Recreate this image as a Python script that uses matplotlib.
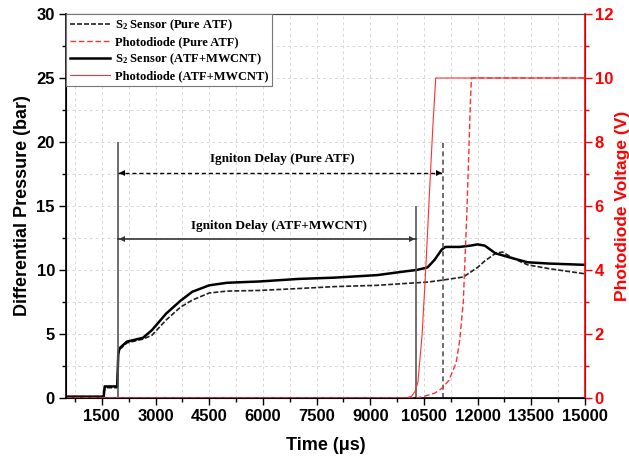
import numpy as np
import matplotlib
matplotlib.use('Agg')
import matplotlib.pyplot as plt
from matplotlib.ticker import MultipleLocator
from matplotlib.font_manager import FontProperties

plt.rcParams['mathtext.default'] = 'regular'

# S2 pressure sensor, ATF+MWCNT (bar)
t_mwcnt = [500, 1550, 1580, 1930, 1960, 2000, 2200, 2650, 2900, 3300, 3700, 4030, 4500,
           5000, 5900, 7000, 8000, 9200, 10000, 10300, 10600, 10800, 11000, 11100, 11500,
           11800, 12000, 12200, 12500, 13000, 13400, 14000, 15000]
p_mwcnt = [0.1, 0.1, 0.9, 0.9, 3.5, 3.9, 4.4, 4.7, 5.3, 6.6, 7.6, 8.3, 8.8,
           9.0, 9.1, 9.3, 9.4, 9.6, 9.9, 10.0, 10.2, 10.8, 11.6, 11.8, 11.8,
           11.9, 12.0, 11.9, 11.3, 10.9, 10.6, 10.5, 10.4]

# S2 pressure sensor, pure ATF (bar)
t_pure = [500, 1550, 1580, 1930, 1960, 2000, 2200, 2650, 2900, 3300, 3700, 4030, 4500,
          5000, 5900, 7000, 8000, 9200, 10000, 10600, 11000, 11600, 12000, 12200, 12500,
          12700, 13000, 13400, 14000, 15000]
p_pure = [0.1, 0.1, 0.8, 0.8, 3.4, 3.8, 4.3, 4.6, 4.9, 6.1, 7.1, 7.65, 8.2,
          8.35, 8.4, 8.55, 8.7, 8.8, 8.95, 9.05, 9.2, 9.45, 10.2, 10.7, 11.3,
          11.4, 10.9, 10.4, 10.1, 9.7]

# photodiode voltages (V)
t_pd_mwcnt = [500, 10000, 10150, 10250, 10333, 10450, 10550, 10650, 10750, 10830, 15000]
v_pd_mwcnt = [0, 0, 0.05, 0.2, 0.5, 2.0, 4.0, 6.3, 8.5, 10, 10]
t_pd_pure = [500, 10300, 10500, 10800, 11000, 11200, 11400, 11500, 11600, 11700, 11800, 11830, 15000]
v_pd_pure = [0, 0, 0.05, 0.15, 0.3, 0.55, 1.1, 1.8, 3.0, 5.8, 9.3, 10, 10]

# ignition markers
t_start = 1950
t_ign_pure = 11030
t_ign_mwcnt = 10280

fig = plt.figure(figsize=(6.29, 4.59), dpi=100)
ax = fig.add_axes([0.105, 0.133, 0.825, 0.8365])
ax2 = ax.twinx()

tick_fp = FontProperties(family='Liberation Sans', weight='bold', size=12)
serif = 'Liberation Serif'

l1, = ax.plot(t_pure, p_pure, color='#222222', lw=1.2, ls=(0, (3, 1.2)), label='S$_2$ Sensor (Pure ATF)')
l3, = ax.plot(t_mwcnt, p_mwcnt, color='k', lw=1.8, label='S$_2$ Sensor (ATF+MWCNT)')
l2, = ax2.plot(t_pd_pure, v_pd_pure, color='#ff3030', lw=1.0, ls=(0, (4, 2)), label='Photodiode (Pure ATF)')
l4, = ax2.plot(t_pd_mwcnt, v_pd_mwcnt, color='#ff3030', lw=0.8, label='Photodiode (ATF+MWCNT)')

# ignition delay annotations
ax.vlines(t_start, 0, 20, color='#555555', lw=1.2)
ax.vlines(t_ign_mwcnt, 0, 15, color='#555555', lw=1.2)
ax.vlines(t_ign_pure, 0, 20, color='#555555', lw=1.2, linestyles=(0, (3, 2)))

ax.plot([t_start, t_ign_pure], [17.6, 17.6], color='k', lw=1.0, ls=(0, (3, 2)))
ax.plot([t_start + 120], [17.6], marker='<', color='k', ms=5, mew=0)
ax.plot([t_ign_pure - 120], [17.6], marker='>', color='k', ms=5, mew=0)
ax.plot([t_start, t_ign_mwcnt], [12.4, 12.4], color='#333333', lw=1.2)
ax.plot([t_start + 120], [12.4], marker='<', color='#333333', ms=5, mew=0)
ax.plot([t_ign_mwcnt - 120], [12.4], marker='>', color='#333333', ms=5, mew=0)

ax.text(6550, 18.2, 'Igniton Delay (Pure ATF)', ha='center', va='bottom',
        family=serif, weight='bold', size=9.5)
ax.text(6450, 13.0, 'Igniton Delay (ATF+MWCNT)', ha='center', va='bottom',
        family=serif, weight='bold', size=9.5)

ax.set_xlim(500, 15000)
ax.set_ylim(0, 30)
ax2.set_ylim(0, 12)

ax.xaxis.set_major_locator(MultipleLocator(1500))
ax.xaxis.set_minor_locator(MultipleLocator(750))
ax.yaxis.set_major_locator(MultipleLocator(5))
ax.yaxis.set_minor_locator(MultipleLocator(2.5))
ax2.yaxis.set_major_locator(MultipleLocator(2))
ax2.yaxis.set_minor_locator(MultipleLocator(1))

ax.grid(True, which='both', color='#d8d8d8', ls=(0, (3, 3)), lw=0.7)
ax.set_axisbelow(True)

ax.tick_params(which='major', length=5, width=1, direction='out', pad=3)
ax.tick_params(which='minor', length=3, width=1, direction='out')
ax2.tick_params(which='major', length=5, width=1, colors='red', direction='out', pad=2)
ax2.tick_params(which='minor', length=3, width=1, colors='red', direction='out')
for lab in ax.get_xticklabels() + ax.get_yticklabels():
    lab.set_fontproperties(tick_fp)
for lab in ax2.get_yticklabels():
    lab.set_fontproperties(tick_fp)
    lab.set_color('red')

ax2.spines['right'].set_color('red')
ax2.spines['right'].set_linewidth(1.2)
for s in ['left', 'bottom']:
    ax.spines[s].set_linewidth(1.2)
ax.spines['top'].set_color('#444444')
ax2.spines['top'].set_color('#444444')

ax.set_xlabel('Time (\u03bcs)', family='Liberation Sans', weight='bold', size=13, labelpad=9)
ax.set_ylabel('Differential Pressure (bar)', family='Liberation Sans', weight='bold', size=13, labelpad=4)
ax2.set_ylabel('Photodiode Voltage (V)', family='Liberation Sans', weight='bold', size=12.5,
               color='red', labelpad=1)

leg = ax2.legend(handles=[l1, l2, l3, l4], loc='upper left', bbox_to_anchor=(0, 1),
                 borderaxespad=0, fancybox=False, framealpha=1, edgecolor='#777777',
                 prop=dict(family=serif, weight='bold', size=9), handlelength=3.2,
                 labelspacing=0.25, borderpad=0.3, handletextpad=0.4)
leg.get_frame().set_linewidth(0.8)

fig.savefig('out.png', dpi=100)
